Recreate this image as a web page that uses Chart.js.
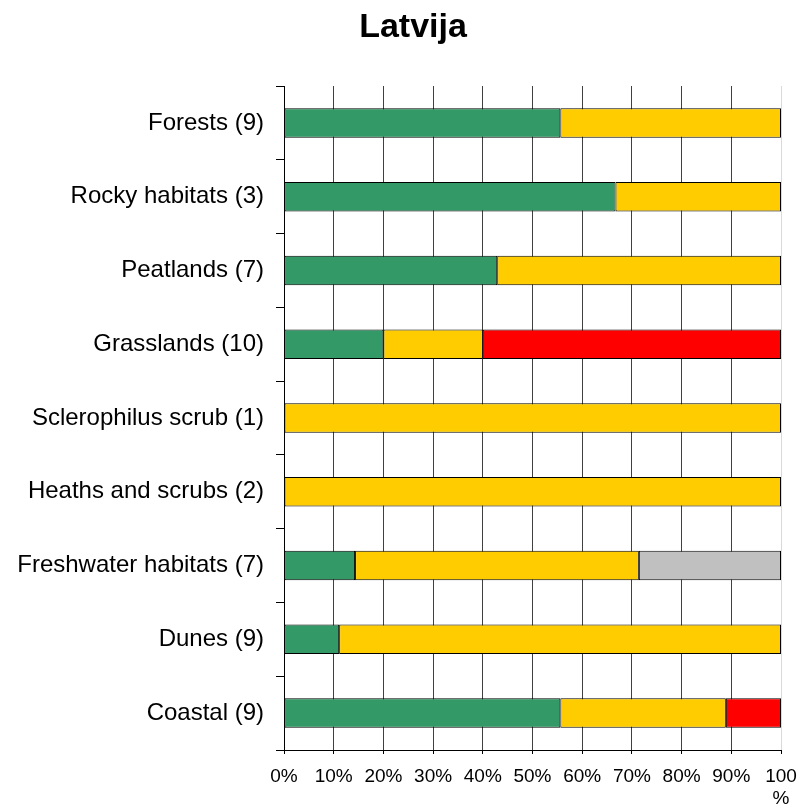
<!DOCTYPE html>
<html>
<head>
<meta charset="utf-8">
<script src="https://cdn.jsdelivr.net/npm/chart.js@4/dist/chart.umd.min.js"></script>
<style>
  html, body { margin: 0; padding: 0; background: #fff; }
  canvas { display: block; }
</style>
</head>
<body>
<canvas id="grafico" width="799" height="806"></canvas>
<script>
// categories and shares (%)
const titulo = 'Latvija';
const categorias = ['Forests (9)', 'Rocky habitats (3)', 'Peatlands (7)', 'Grasslands (10)',
  'Sclerophilus scrub (1)', 'Heaths and scrubs (2)', 'Freshwater habitats (7)', 'Dunes (9)', 'Coastal (9)'];
const verde    = [55.6, 66.7, 42.9, 20, 0, 0, 14.3, 11.1, 55.6];
const amarelo  = [44.4, 33.3, 57.1, 20, 100, 100, 57.1, 88.9, 33.3];
const vermelho = [0, 0, 0, 60, 0, 0, 0, 0, 11.1];
const cinza    = [0, 0, 0, 0, 0, 0, 28.6, 0, 0];
const ticksX   = [0, 10, 20, 30, 40, 50, 60, 70, 80, 90, 100];

function serie(dados, cor) {
  return {
    data: dados,
    backgroundColor: cor,
    borderColor: '#000000',
    borderWidth: 1,
    borderSkipped: false,
    barPercentage: 0.4,
    categoryPercentage: 1.0
  };
}

// the title sits a bit right of the page centre in the original, so draw it by hand
const tituloPlugin = {
  id: 'tituloPlugin',
  afterDraw(chart) {
    const ctx = chart.ctx;
    ctx.save();
    ctx.font = 'bold 34px Arial, "Liberation Sans"';
    ctx.fillStyle = '#000';
    ctx.textAlign = 'center';
    ctx.textBaseline = 'alphabetic';
    ctx.fillText(titulo, 413, 37);
    ctx.restore();
  }
};

const contexto = document.getElementById('grafico').getContext('2d');
const meuGrafico = new Chart(contexto, {
  type: 'bar',
  data: {
    labels: categorias,
    datasets: [
      serie(verde, '#339966'),
      serie(amarelo, '#FFCC00'),
      serie(vermelho, '#FF0000'),
      serie(cinza, '#C0C0C0')
    ]
  },
  plugins: [tituloPlugin],
  options: {
    indexAxis: 'y',
    responsive: false,
    animation: false,
    layout: { padding: { left: 0, right: 18, top: 86, bottom: 0 } },
    plugins: {
      legend: { display: false },
      tooltip: { enabled: false },
      title: { display: false }
    },
    scales: {
      x: {
        stacked: true,
        min: 0,
        max: 100,
        afterBuildTicks: (scale) => { scale.ticks = ticksX.map(v => ({ value: v })); },
        afterFit: (scale) => {
          scale.height = 56;
          scale.paddingLeft = 0;
          scale.paddingRight = 0;
        },
        ticks: {
          color: '#000',
          padding: 12,
          maxRotation: 0,
          autoSkip: false,
          font: { family: 'Arial, "Liberation Sans"', size: 19, lineHeight: 1.15 },
          callback: (v) => v === 100 ? ['100', '%'] : v + '%'
        },
        grid: {
          color: (c) => c.index === 10 ? '#d9d9d9' : '#404040',
          tickColor: '#000',
          tickLength: 4
        },
        border: { color: '#000', width: 1 }
      },
      y: {
        stacked: true,
        afterFit: (scale) => { scale.width = 284; },
        ticks: {
          color: '#000',
          padding: 12,
          autoSkip: false,
          font: { family: 'Arial, "Liberation Sans"', size: 24 }
        },
        grid: {
          offset: true,
          drawOnChartArea: false,
          color: '#000',
          tickLength: 8
        },
        border: { color: '#000', width: 1 }
      }
    }
  }
});
</script>
</body>
</html>
